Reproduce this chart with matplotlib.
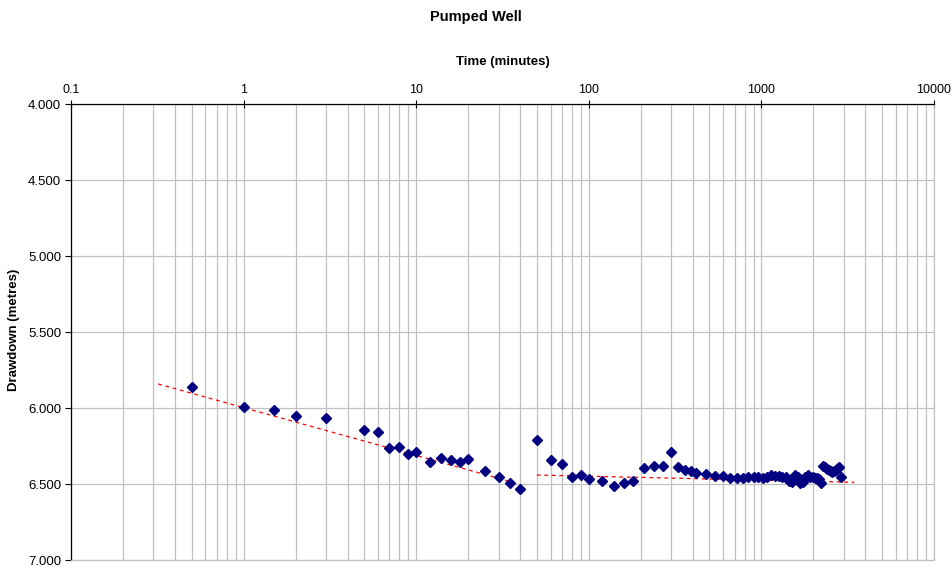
import matplotlib
matplotlib.use("Agg")
import matplotlib.pyplot as plt
from matplotlib.ticker import FixedLocator, FuncFormatter, LogLocator, NullFormatter

plt.rcParams['font.family'] = ['Liberation Sans', 'DejaVu Sans']

time_min = [0.5, 1, 1.5, 2, 3, 5, 6, 7, 8, 9, 10, 12, 14, 16, 18, 20, 25, 30, 35, 40,
            50, 60, 70, 80, 90, 100, 120, 140, 160, 180, 210, 240, 270, 300, 330, 360,
            390, 420, 480, 540, 600, 660, 720, 780, 840, 900, 960, 1020, 1080, 1140,
            1200, 1260, 1320, 1380, 1440, 1500, 1560, 1620, 1680, 1740, 1800, 1860,
            1920, 1980, 2040, 2100, 2160, 2220, 2280, 2340, 2400, 2460, 2520, 2580,
            2640, 2700, 2760, 2820, 2880]
drawdown = [5.864, 5.995, 6.015, 6.053, 6.066, 6.145, 6.156, 6.265, 6.259, 6.305,
            6.292, 6.355, 6.329, 6.339, 6.355, 6.333, 6.412, 6.452, 6.496, 6.535,
            6.208, 6.345, 6.366, 6.454, 6.443, 6.465, 6.480, 6.513, 6.493, 6.482,
            6.395, 6.379, 6.383, 6.289, 6.390, 6.408, 6.416, 6.430, 6.434, 6.450,
            6.447, 6.462, 6.462, 6.462, 6.456, 6.456, 6.456, 6.462, 6.452, 6.441,
            6.447, 6.447, 6.452, 6.456, 6.478, 6.485, 6.441, 6.456, 6.496, 6.485,
            6.452, 6.441, 6.456, 6.452, 6.462, 6.459, 6.470, 6.496, 6.380, 6.390,
            6.400, 6.410, 6.415, 6.419, 6.415, 6.408, 6.397, 6.390, 6.452]

trend1_t = [0.32, 37]
trend1_y = [5.842, 6.491]
trend2_t = [50, 3450]
trend2_y = [6.441, 6.489]

y_ticks = [4.0, 4.5, 5.0, 5.5, 6.0, 6.5, 7.0]
x_major = [0.1, 1, 10, 100, 1000, 10000]
x_labels = ['0.1', '1', '10', '100', '1000', '10000']

fig = plt.figure(figsize=(9.53, 5.68), dpi=100)
ax = fig.add_axes([71/953, 1-560/568, (934-71)/953, (560-104)/568])

ax.set_xscale('log')
ax.set_xlim(0.1, 10000)
ax.set_ylim(7.0, 4.0)

grid_c = '#c0c0c0'
ax.xaxis.set_major_locator(FixedLocator(x_major))
ax.xaxis.set_major_formatter(FuncFormatter(lambda v, p: x_labels[x_major.index(v)] if v in x_major else ''))
ax.xaxis.set_minor_locator(LogLocator(base=10, subs=range(2, 10), numticks=20))
ax.xaxis.set_minor_formatter(NullFormatter())
ax.yaxis.set_major_locator(FixedLocator(y_ticks))
ax.yaxis.set_major_formatter(FuncFormatter(lambda v, p: f'{v:.3f}'))

ax.grid(True, which='major', axis='both', color=grid_c, lw=0.9)
ax.grid(True, which='minor', axis='x', color=grid_c, lw=0.9)
ax.set_axisbelow(True)

ax.xaxis.tick_top()
ax.tick_params(axis='x', which='major', direction='inout', length=6, width=0.8, labelsize=9, pad=3)
ax.tick_params(axis='x', which='minor', length=0)
ax.tick_params(axis='y', which='major', direction='out', length=4, width=0.8, labelsize=9.5, pad=3)

for s in ['left', 'top']:
    ax.spines[s].set_color('black')
    ax.spines[s].set_linewidth(0.9)
for s in ['right', 'bottom']:
    ax.spines[s].set_color(grid_c)
    ax.spines[s].set_linewidth(0.9)

ax.plot(trend1_t, trend1_y, color='#ff0000', ls=(0, (3, 3)), lw=0.9, zorder=3)
ax.plot(trend2_t, trend2_y, color='#ff0000', ls=(0, (3, 3)), lw=0.9, zorder=3)
ax.plot(time_min, drawdown, ls='none', marker='D', markersize=5, color='#000080', zorder=4)

fig.canvas.draw()
last = ax.get_xticklabels()[-1]
last.set_horizontalalignment('right')
last.set_x(last.get_position()[0])
import matplotlib.transforms as mtransforms
last.set_transform(last.get_transform() + mtransforms.ScaledTranslation(17/100, 0, fig.dpi_scale_trans))

fig.text(503/953, 1-62/568, 'Time (minutes)', ha='center', va='center', fontsize=9.5, fontweight='bold')
fig.text(14/953, 1-330/568, 'Drawdown (metres)', ha='center', va='center', rotation=90,
         fontsize=9.5, fontweight='bold')
fig.text(476/953, 1-17/568, 'Pumped Well', ha='center', va='center', fontsize=10.5, fontweight='bold')

fig.savefig('out.png', dpi=100)
